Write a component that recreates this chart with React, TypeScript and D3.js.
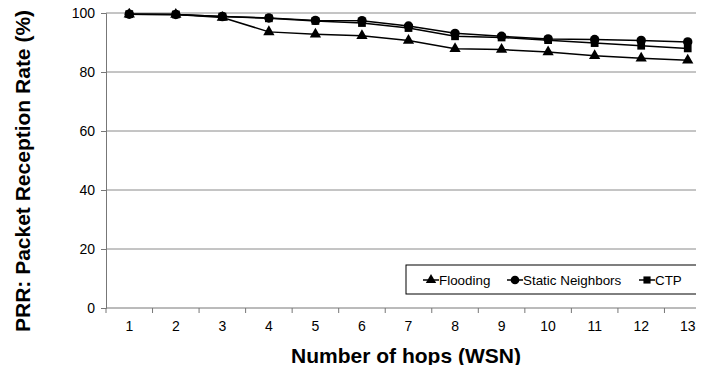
import React, { useRef, useEffect } from 'react';
import * as d3 from 'd3';

const hops = ['1', '2', '3', '4', '5', '6', '7', '8', '9', '10', '11', '12', '13'];
const flooding = [99.6, 99.5, 98.5, 93.6, 92.8, 92.3, 90.7, 87.9, 87.6, 86.8, 85.5, 84.7, 84.0];
const staticNeighbors = [99.6, 99.5, 98.8, 98.3, 97.5, 97.4, 95.6, 93.1, 92.1, 91.2, 91.0, 90.7, 90.2];
const ctp = [99.6, 99.5, 98.8, 98.2, 97.3, 96.6, 94.9, 92.1, 91.7, 90.8, 89.8, 88.9, 88.0];
const yTicks = [0, 20, 40, 60, 80, 100];

const series = [
  { name: 'Flooding', values: flooding, symbol: d3.symbolTriangle, size: 55 },
  { name: 'Static Neighbors', values: staticNeighbors, symbol: d3.symbolCircle, size: 70 },
  { name: 'CTP', values: ctp, symbol: d3.symbolSquare, size: 60 },
];

const W = 704;
const H = 373;
const margin = { top: 13, right: -7, bottom: 65, left: 106 };
const font = 'Liberation Sans, Arial, sans-serif';

const Chart: React.FC = () => {
  const svgRef = useRef<SVGSVGElement>(null);

  useEffect(() => {
    if (!svgRef.current) return;
    const svg = d3.select(svgRef.current);
    svg.selectAll('*').remove();

    const x = d3.scaleBand().domain(hops).range([margin.left, W - margin.right]);
    const y = d3.scaleLinear().domain([0, 100]).range([H - margin.bottom, margin.top]);

    // gridlines
    svg.append('g')
      .selectAll('line')
      .data(yTicks.filter(t => t > 0))
      .enter().append('line')
      .attr('x1', margin.left).attr('x2', W)
      .attr('y1', d => y(d)).attr('y2', d => y(d))
      .attr('stroke', '#8a8a8a').attr('stroke-width', 1);

    // y axis
    const yAxis = svg.append('g')
      .attr('transform', `translate(${margin.left},0)`)
      .call(d3.axisLeft(y).tickValues(yTicks).tickSize(5).tickPadding(6));
    yAxis.select('.domain').attr('stroke', '#777');
    yAxis.selectAll('.tick line').attr('stroke', '#777');
    yAxis.selectAll('text').style('font-family', font).style('font-size', '14px').attr('fill', '#000');

    // x axis
    const xAxis = svg.append('g')
      .attr('transform', `translate(0,${y(0)})`)
      .call(d3.axisBottom(x).tickSize(0).tickPadding(13));
    xAxis.select('.domain').attr('stroke', '#777').attr('d', `M${margin.left},0H${W}`);
    xAxis.selectAll('text').style('font-family', font).style('font-size', '14px').attr('fill', '#000');
    svg.append('g')
      .selectAll('line')
      .data(hops)
      .enter().append('line')
      .attr('x1', d => x(d)!).attr('x2', d => x(d)!)
      .attr('y1', y(0)).attr('y2', y(0) + 5)
      .attr('stroke', '#777');

    const line = d3.line<number>()
      .x((_, i) => x(hops[i])! + x.bandwidth() / 2)
      .y(d => y(d));

    series.forEach(s => {
      svg.append('path')
        .datum(s.values)
        .attr('d', line)
        .attr('fill', 'none')
        .attr('stroke', '#000')
        .attr('stroke-width', 1.5);
      svg.append('g')
        .selectAll('path')
        .data(s.values)
        .enter().append('path')
        .attr('d', d3.symbol().type(s.symbol).size(s.size))
        .attr('transform', (d, i) => `translate(${x(hops[i])! + x.bandwidth() / 2},${y(d)})`)
        .attr('fill', '#000');
    });

    // legend
    const lg = svg.append('g');
    lg.append('rect')
      .attr('x', 406).attr('y', 265).attr('width', 291).attr('height', 29)
      .attr('fill', '#fff').attr('stroke', '#000').attr('stroke-width', 1);
    const legendX = [423, 507, 639];
    series.forEach((s, i) => {
      const lx = legendX[i];
      lg.append('line')
        .attr('x1', lx).attr('x2', lx + 16).attr('y1', 280).attr('y2', 280)
        .attr('stroke', '#000').attr('stroke-width', 1.5);
      lg.append('path')
        .attr('d', d3.symbol().type(s.symbol).size(s.size * 0.85))
        .attr('transform', `translate(${lx + 8},280)`)
        .attr('fill', '#000');
      lg.append('text')
        .attr('x', lx + 16).attr('y', 285)
        .style('font-family', font).style('font-size', '13.4px')
        .text(s.name);
    });

    // axis titles
    svg.append('text')
      .attr('x', 406).attr('y', 363)
      .attr('text-anchor', 'middle')
      .style('font-family', font).style('font-size', '21px').style('font-weight', 'bold')
      .text('Number of hops (WSN)');
    svg.append('text')
      .attr('transform', `translate(30,171) rotate(-90)`)
      .attr('text-anchor', 'middle')
      .style('font-family', font).style('font-size', '21px').style('font-weight', 'bold')
      .text('PRR: Packet Reception Rate (%)');
  }, []);

  return <svg ref={svgRef} width={W} height={H} style={{ display: 'block' }} />;
};

export default function App() {
  return (
    <div style={{ margin: -8 }}>
      <Chart />
    </div>
  );
}
